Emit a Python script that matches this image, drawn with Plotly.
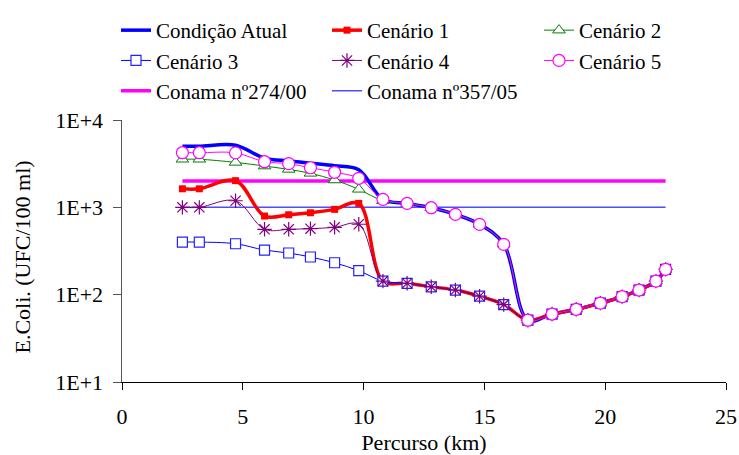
import plotly.graph_objects as go

# Distance along the river (km)
percurso_km = [2.5, 3.2, 4.7, 5.9, 6.9, 7.8, 8.8, 9.8, 10.8, 11.8, 12.8, 13.8,
               14.8, 15.8, 16.8, 17.8, 18.8, 19.8, 20.7, 21.4, 22.1, 22.5]

# E.Coli (UFC/100 ml)
condicao_atual = [5000, 5000, 5150, 3650, 3400, 3200, 3000, 2700, 1230, 1110, 990, 830,
                  640, 380, 51, 60, 68, 80, 95, 113, 143, 195]
cenario_1 = [1630, 1630, 2020, 795, 822, 867, 948, 1110, 143, 135, 123, 113,
             96, 77, 51, 60, 68, 80, 95, 113, 143, 195]
cenario_2 = [3550, 3550, 3270, 2970, 2720, 2450, 2055, 1608, 1190, 1110, 990, 830,
             640, 380, 51, 60, 68, 80, 95, 113, 143, 195]
cenario_3 = [400, 400, 383, 324, 300, 270, 232, 188, 143, 135, 123, 113,
             96, 77, 51, 60, 68, 80, 95, 113, 143, 195]
cenario_4 = [1000, 1000, 1190, 560, 560, 570, 590, 640, 143, 135, 123, 113,
             96, 77, 51, 60, 68, 80, 95, 113, 143, 195]
cenario_5 = [4220, 4220, 4200, 3330, 3160, 2840, 2520, 2150, 1235, 1112, 990, 832,
             638, 377, 51, 60, 68, 80, 95, 113, 143, 195]

# Limits
conama_274_x = [2.5, 22.5]
conama_274 = [2000, 2000]
conama_357_x = [2.5, 22.5]
conama_357 = [1000, 1000]

y_tickvals = [10, 100, 1000, 10000]
y_ticktext = ["1E+1", "1E+2", "1E+3", "1E+4"]
x_tickvals = [0, 5, 10, 15, 20, 25]
y_title = "E.Coli. (UFC/100 ml)"
x_title = "Percurso (km)"

FONT = "Liberation Serif"
FS = 22
LFS = 21

fig = go.Figure()

fig.add_trace(go.Scatter(x=conama_274_x, y=conama_274, mode="lines", name="Conama nº274/00",
                         line=dict(color="#FF00FF", width=3.5),
                         legend="legend", legendrank=3))
fig.add_trace(go.Scatter(x=conama_357_x, y=conama_357, mode="lines", name="Conama nº357/05",
                         line=dict(color="#4D4DFF", width=1.5),
                         legend="legend2", legendrank=3))

fig.add_trace(go.Scatter(x=percurso_km, y=condicao_atual, mode="lines", name="Condição Atual",
                         line=dict(color="#0000FF", width=3.5, shape="spline"),
                         legend="legend", legendrank=1))
fig.add_trace(go.Scatter(x=percurso_km, y=cenario_1, mode="lines+markers", name="Cenário 1",
                         line=dict(color="#FF0000", width=3.5, shape="spline"),
                         marker=dict(symbol="square", size=7, color="#FF0000"),
                         legend="legend2", legendrank=1))
fig.add_trace(go.Scatter(x=percurso_km, y=cenario_2, mode="lines+markers", name="Cenário 2",
                         line=dict(color="#008000", width=1, shape="spline"),
                         marker=dict(symbol="triangle-up", size=11, color="white",
                                     line=dict(color="#008000", width=1)),
                         legend="legend3", legendrank=1))
fig.add_trace(go.Scatter(x=percurso_km, y=cenario_3, mode="lines+markers", name="Cenário 3",
                         line=dict(color="#0000FF", width=1, shape="spline"),
                         marker=dict(symbol="square", size=10, color="white",
                                     line=dict(color="#2222FF", width=1.2)),
                         legend="legend", legendrank=2))
fig.add_trace(go.Scatter(x=percurso_km, y=cenario_4, mode="lines+markers", name="Cenário 4",
                         line=dict(color="#800080", width=1, shape="spline"),
                         marker=dict(symbol="asterisk-open", size=12,
                                     line=dict(color="#800080", width=1.2)),
                         legend="legend2", legendrank=2))
fig.add_trace(go.Scatter(x=percurso_km, y=cenario_5, mode="lines+markers", name="Cenário 5",
                         line=dict(color="#FF00FF", width=1, shape="spline"),
                         marker=dict(symbol="circle", size=12, color="white",
                                     line=dict(color="#FF00FF", width=1.2)),
                         legend="legend3", legendrank=2))


def leg(xpx):
    return dict(orientation="v", xref="container", yref="container",
                x=xpx / 739, y=1 - 10 / 455, xanchor="left", yanchor="top",
                traceorder="normal", font=dict(family=FONT, size=LFS, color="black"),
                bgcolor="rgba(0,0,0,0)")


fig.update_layout(
    width=739, height=455,
    margin=dict(l=122, r=13, t=120, b=73, autoexpand=False),
    paper_bgcolor="white", plot_bgcolor="white",
    font=dict(family=FONT, size=FS, color="black"),
    legend=leg(116), legend2=leg(327), legend3=leg(539),
    xaxis=dict(range=[0, 25], tickvals=x_tickvals, showgrid=False, zeroline=False,
               showline=True, linecolor="black", linewidth=1,
               ticks="outside", ticklen=7, tickcolor="black", ticklabelstandoff=8,
               tickfont=dict(family=FONT, size=FS),
               title=dict(text=x_title, standoff=10,
                          font=dict(family=FONT, size=FS))),
    yaxis=dict(type="log", range=[1, 4], tickvals=y_tickvals,
               ticktext=[t + "\u00a0" for t in y_ticktext],
               showgrid=False, zeroline=False, showline=True, linecolor="#555555",
               linewidth=1, ticks="outside", ticklen=8, tickcolor="#555555",
               tickfont=dict(family=FONT, size=FS)),
    annotations=[dict(text=y_title, textangle=-90, xref="paper", yref="paper",
                      x=(23 - 122) / 604, y=0.475, xanchor="center", yanchor="middle",
                      showarrow=False, font=dict(family=FONT, size=FS, color="black"))],
)

fig.write_html("out.html", config={"displayModeBar": False},
               post_script="document.body.style.margin='0px';")
